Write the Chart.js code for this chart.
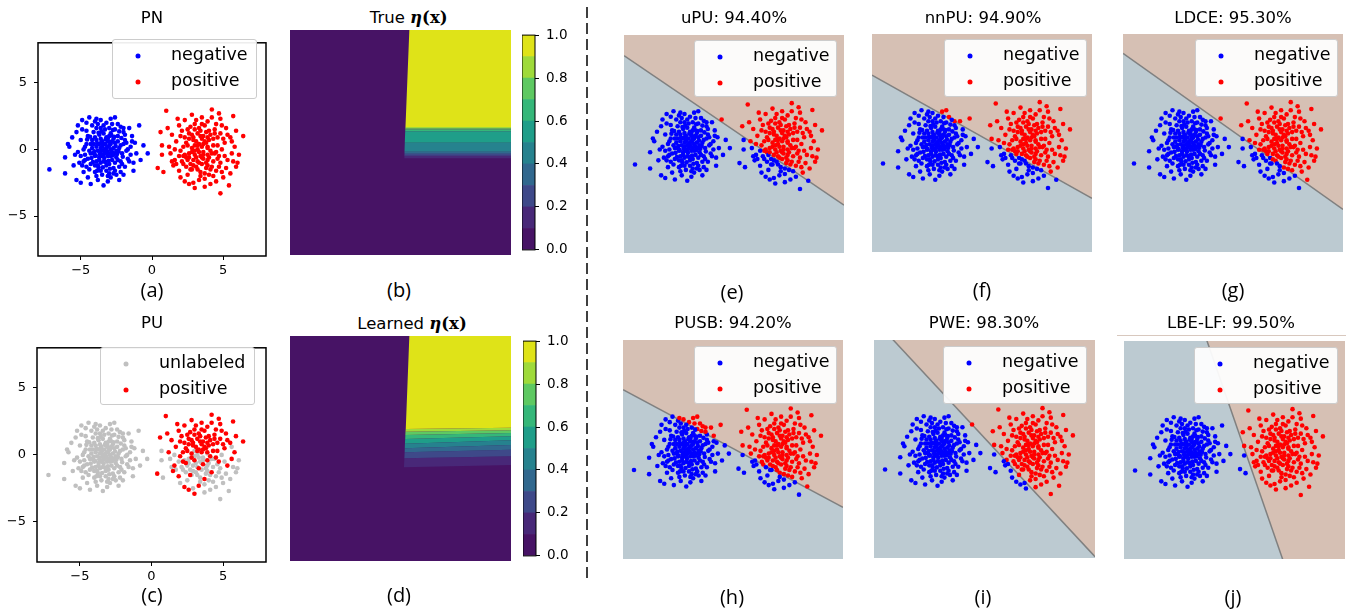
<!DOCTYPE html>
<html>
<head>
<meta charset="utf-8">
<title>PU learning decision boundaries</title>
<script src="https://cdn.jsdelivr.net/npm/chart.js@4.4.1/dist/chart.umd.min.js"></script>
<style>
  body { margin: 0; width: 1351px; height: 610px; position: relative; overflow: hidden; background: #fff; font-family: "DejaVu Sans", sans-serif; color: #000; }
  canvas { position: absolute; }
  .title { position: absolute; transform: translate(-50%, -50%); font-size: 16.5px; line-height: 1; white-space: nowrap; }
  .math { font-family: "DejaVu Serif", serif; font-weight: bold; }
  .tag { position: absolute; transform: translate(-50%, -50%); font-family: "Open Sans", sans-serif; font-size: 20px; line-height: 1; }
  .legend { position: absolute; box-sizing: border-box; background: rgba(255, 255, 255, 0.93); border: 1px solid #cccccc; border-radius: 3px; }
  .legend .dot { position: absolute; width: 5px; height: 5px; border-radius: 50%; transform: translate(-50%, -50%); }
  .legend .lbl { position: absolute; font-size: 17.5px; line-height: 1; white-space: nowrap; transform: translateY(-50%); }
</style>
</head>
<body>
<svg width="1351" height="610" style="position:absolute;left:0;top:0">
  <line x1="587" y1="7" x2="587" y2="582" stroke="#000" stroke-width="1.5" stroke-dasharray="11,5"/>
  <line x1="1117" y1="335.5" x2="1346" y2="335.5" stroke="#d8c8be" stroke-width="1"/>
</svg>
<script>
// ---------- data (axis units) ----------
const negativePts = [
  [-7.2,-1.5],[-6.1,-0.6],[-6.1,-1.8],[-5.9,0.4],[-5.8,0.2],[-5.3,-2.3],[-5.5,-1.2],[-5.2,1.8],[-4.9,2.2],[-4.4,2.4],
  [-5.0,-2.5],[-4.3,-2.6],[-3.4,-2.7],[-3.8,-2.3],[-2.7,-1.8],[-2.3,-2.3],[-2.6,2.4],[-2.9,2.3],[-1.6,1.6],[-0.9,1.8],
  [-0.3,-0.3],[-0.6,0.3],[-0.8,-0.8],[-1.3,-1.6],[-1.2,0.5],
  [-4.6,2.0],[-4.0,2.1],[-3.6,2.2],[-3.2,2.0],[-2.4,1.9],[-2.0,1.6],[-1.9,1.1],[-1.4,1.0],[-1.5,0.2],[-1.1,-0.3],
  [-1.7,-0.7],[-1.9,-1.3],[-2.2,-1.7],[-2.9,-2.1],[-3.1,-2.4],[-3.9,-2.0],[-4.5,-2.1],[-4.8,-1.7],[-5.1,-1.0],[-5.4,-0.4],
  [-5.6,0.9],[-5.3,1.3],[-4.9,1.5],[-4.7,-0.8],
  [-3.3,0.0],[-3.0,0.3],[-3.6,-0.2],[-3.1,-0.5],[-3.5,0.6],[-2.8,-0.2],[-3.9,0.2],[-3.2,0.9],[-2.6,0.5],[-4.0,-0.5],
  [-3.4,-0.9],[-2.5,-0.6],[-4.2,0.7],[-2.9,1.2],[-3.7,1.1],[-2.3,0.1],[-4.4,-0.1],[-3.0,-1.1],[-3.8,-1.2],[-2.2,-0.9],
  [-4.1,1.3],[-2.4,1.0],[-4.6,0.4],[-2.0,0.4],[-3.3,1.5],[-4.3,-1.1],[-2.7,-1.4],[-3.6,-1.6],[-2.1,-0.3],[-4.7,-0.4],
  [-3.9,1.6],[-2.6,1.5],[-3.1,0.6],[-3.5,0.2],[-2.9,0.0],[-3.7,-0.6],[-3.2,-0.2],[-2.7,0.8],[-4.0,0.9],[-3.4,-0.4],
  [-2.8,-0.8],[-3.9,-0.9],[-3.6,0.8],[-3.0,1.6],[-4.5,1.0],[-1.8,-0.1],[-1.9,0.7],[-2.3,-1.3],[-4.4,-1.5],[-3.2,-1.6],
  [-4.8,0.0],[-5.0,0.7],[-4.9,-1.2],[-2.0,1.3],[-3.8,1.9],[-2.8,1.9],[-3.4,1.2],[-2.5,-0.1],[-4.2,0.1],[-3.6,-1.0],
  [-2.4,0.6],[-4.1,-0.3],[-3.1,0.2],[-2.9,-0.5],[-3.3,0.4],[-3.7,0.4],[-2.6,-1.0],[-4.3,0.4],[-1.6,-0.9],[-1.4,0.6],
  [-2.2,1.7],[-4.2,1.8],[-5.2,-0.2],[-4.6,-1.3],[-3.5,-1.9],[-2.5,-1.9],[-1.7,0.0],
  [-3.15,-0.15],[-3.45,0.35],[-2.95,0.55],[-3.65,-0.35],[-3.25,0.75],[-2.75,-0.45],[-3.85,0.45],[-3.35,-0.65],[-2.55,0.25],[-4.05,-0.15],
  [-3.05,-0.85],[-3.55,1.35],[-2.45,-0.35],[-4.25,-0.65],[-2.85,1.05],[-3.75,-1.35],[-2.15,0.85],[-4.55,0.75],[-3.0,-1.8],[-4.0,-1.7],
  [-3.2,0.1],[-3.4,-0.1],[-3.0,-0.3],[-3.6,0.1],[-2.9,0.4],[-3.5,-0.5],[-3.1,0.8],[-3.8,-0.1],[-2.7,0.1],[-3.3,-0.3],
  [-3.9,0.7],[-2.6,-0.3],[-3.2,-1.2],[-4.1,0.4],[-2.8,0.6],[-3.7,-0.8],[-3.0,1.0],[-4.3,-0.3],[-2.4,-0.8],[-3.6,1.6],
  [-2.2,0.3],[-4.5,-0.7],[-3.4,1.8],[-2.6,-1.6],[-4.0,-1.2],[-2.1,-1.1],[-4.6,1.4],[-1.8,0.5],[-3.1,-2.0],[-4.7,0.2],
  [-3.55,0.55],[-2.65,0.95],[-3.95,-0.45],[-3.25,-0.95],[-2.35,-0.15],[-4.35,0.95],[-2.95,-1.45],[-3.75,1.25],[-2.05,-0.55],[-4.15,-0.95],
  [-3.45,-1.35],[-2.75,1.45],[-3.85,-1.6],[-2.3,1.35],[-5.0,-0.5],[-1.5,-0.4],[-3.9,2.3],[-2.0,-1.9],[-4.8,-0.9],[-1.3,-1.0]
];

// positives that carry a label in the PU panel (c)
const positiveLabeledPts = [
  [1.0,2.9],[4.2,3.0],[5.7,2.5],[4.8,2.3],[2.8,2.6],[6.4,1.0],[5.9,1.4],[0.6,1.3],[3.5,2.4],[2.3,2.2],
  [3.9,2.1],[4.5,1.9],[3.0,1.9],[1.9,1.8],[5.2,1.6],[1.4,1.1],[2.5,1.5],[3.3,1.6],[4.0,1.4],[4.8,1.2],
  [5.5,0.9],[2.0,1.0],[2.8,1.1],[3.6,1.0],[4.3,0.8],[1.7,0.6],[5.1,0.5],[2.4,0.5],[3.1,0.6],[3.8,0.5],
  [4.6,0.3],[5.8,0.2],[1.2,0.2],[2.0,-0.1],[2.8,0.1],[3.5,0.2],[4.1,-0.1],[3.0,-0.4],[4.7,-0.5],[2.4,-0.6],
  [3.6,-0.7],[5.3,-0.8],[1.6,-0.8],[0.4,-1.4],[1.5,-1.2],[2.3,-2.4],[3.0,-2.9],[3.3,-2.3],[2.7,-1.5],[4.2,-1.3],
  [3.2,1.2],[2.6,0.8],[4.4,1.5],[3.7,1.8],[1.1,1.6],[5.6,-0.3],[3.9,-0.4],[2.2,0.2],
  [3.3,0.4],[2.9,0.7],[3.7,0.6],[3.4,1.4],[2.6,1.2],[4.1,1.1],[3.0,1.5],[3.9,0.9],[2.3,0.9],[4.6,0.9],
  [3.5,0.8],[2.8,-0.2],[4.3,0.3],
  [3.2,0.3],[3.6,0.4],[2.9,0.9],[3.4,1.0],[4.0,0.7],[2.5,0.3],[3.8,1.3],[2.7,1.7],[4.4,1.2],[3.1,2.2],
  [4.9,1.8],[2.1,1.4],[5.3,1.1],[3.5,1.9],[4.2,2.4],[1.8,2.3],[5.0,0.8],[2.2,-0.5],[3.9,0.2],[4.5,-0.2],
  [3.3,-1.0],[1.9,-1.6],[2.6,-2.6],[3.7,-1.8],[4.7,2.7]
];

// positives left unlabeled in the PU panel (c)
const positiveUnlabeledPts = [
  [0.7,0.3],[0.7,-0.4],[0.8,-1.7],[2.0,-2.1],[4.8,-3.3],[5.4,-2.7],[4.1,-2.6],[5.9,-1.3],[6.1,-0.4],[3.3,-0.2],
  [2.9,-0.8],[3.8,-1.0],[4.5,-1.6],[2.2,-1.1],[3.4,-1.7],[2.6,-0.3],[4.0,-0.6],[3.1,-1.3],[4.8,-1.0],[1.9,-0.5],
  [3.6,-0.4],[2.5,-1.9],[3.7,-2.2],[5.0,-2.1],[4.4,-0.3],[5.5,-1.8],[1.3,-0.3],[2.9,-2.5],[4.3,-2.0],[3.9,0.1],
  [3.0,0.3],[2.3,-0.4],[3.5,-1.1],[4.9,0.0],[1.6,0.0],[5.6,0.6],[6.0,-1.0],[3.2,0.0],[2.7,-1.1],[4.1,-1.5],
  [3.6,-0.2],[3.1,-0.6],[3.9,-0.8],[2.5,-0.8],[4.2,-0.3],[3.4,-0.5],[2.9,-1.2],[4.6,-0.7],[3.2,-0.9],[3.8,-1.4],
  [3.5,-0.6],[3.0,-0.1],[4.3,-0.9],[2.8,-1.5],[3.9,-1.2],[2.4,-1.3],[4.7,-1.3],[3.4,-2.0],[5.1,-0.5],[2.1,-0.9],
  [3.7,-2.8],[4.5,-2.4],[5.2,-1.4],[1.7,-1.1],[4.0,-1.9],[3.2,-1.5],[2.6,-0.6],[4.9,-1.7],[1.4,-0.9],[5.7,-0.9]
];

const axisMin = -8, axisMax = 8;
const axisTicks = [-5, 0, 5];

// eta(x) contour levels and the viridis colour of each band
const etaLevels = [0, 0.1, 0.2, 0.3, 0.4, 0.5, 0.6, 0.7, 0.8, 0.9, 1.0];
const viridisMid = ['#471365', '#482878', '#3e4989', '#31688e', '#26828e', '#1f9e89', '#35b779', '#5ec962', '#9fda3a', '#dfe318'];
const cbarTicks = [0, 0.2, 0.4, 0.6, 0.8, 1.0];

// contour edges from the 0.9 level downwards: y at the left end, y at the right end, x of the left end
const trueEdgeYLeft  = [1.11, 1.01, 0.92, 0.80, -0.02, -0.66, -0.80, -0.94, -1.12];
const trueEdgeYRight = [1.11, 1.01, 0.92, 0.80, -0.02, -0.66, -0.80, -0.94, -1.12];
const trueEdgeX      = [0.36, 0.35, 0.35, 0.34, 0.31, 0.29, 0.29, 0.28, 0.28];
const trueTopX = 0.64;
const learnedEdgeYLeft  = [1.39, 1.20, 0.96, 0.68, 0.34, 0.02, -0.27, -0.70, -1.34];
const learnedEdgeYRight = [1.48, 1.30, 1.10, 0.87, 0.58, 0.25, -0.08, -0.55, -1.17];
const learnedEdgeX      = [0.38, 0.36, 0.35, 0.34, 0.32, 0.31, 0.30, 0.28, 0.25];
const learnedTopX = 0.64;

// learned decision boundaries, as the line through two points
const methodNames = ['uPU', 'nnPU', 'LDCE', 'PUSB', 'PWE', 'LBE-LF'];
const methodAcc = ['94.40', '94.90', '95.30', '94.20', '98.30', '99.50'];
const methodBoundaries = [
  [[-8, 6.49], [8, -4.48]],
  [[-8, 4.98], [8, -4.06]],
  [[-8, 6.58], [8, -4.88]],
  [[-8, 4.38], [8, -4.22]],
  [[-8, 9.52], [8, -7.90]],
  [[-8, 25.58], [8, -21.22]]
];

// ---------- styles ----------
const BLUE = '#0000ff', RED = '#ff0000', GREY = '#c0c0c0';
const POS_REGION = '#d6c0b4', NEG_REGION = '#bccad1';
const FONT = 'DejaVu Sans';
const DOT = 2.3;

const pt = ([x, y]) => ({ x, y });

// black box round the plotting area
Chart.register({
  id: 'frame',
  afterDraw(chart, args, opts) {
    if (!opts.width) return;
    const { ctx, chartArea: a } = chart;
    ctx.save();
    ctx.strokeStyle = '#000';
    ctx.lineWidth = opts.width;
    ctx.strokeRect(a.left, a.top, a.right - a.left, a.bottom - a.top);
    ctx.restore();
  }
});

function makeCanvas(left, top, w, h) {
  const c = document.createElement('canvas');
  c.width = w; c.height = h;
  c.style.cssText = `left:${left}px;top:${top}px;width:${w}px;height:${h}px`;
  document.body.appendChild(c);
  return c;
}

function addText(cls, html, x, y) {
  const d = document.createElement('div');
  d.className = cls;
  d.innerHTML = html;
  d.style.left = x + 'px';
  d.style.top = y + 'px';
  document.body.appendChild(d);
}

function addLegend(left, top, w, h, items) {
  const box = document.createElement('div');
  box.className = 'legend';
  box.style.cssText = `left:${left}px;top:${top}px;width:${w}px;height:${h}px`;
  items.forEach(([label, color], i) => {
    const cy = 16 + i * 26;
    const dot = document.createElement('div');
    dot.className = 'dot';
    dot.style.cssText = `left:25px;top:${cy}px;background:${color}`;
    const lbl = document.createElement('div');
    lbl.className = 'lbl';
    lbl.style.cssText = `left:58px;top:${cy - 1.5}px`;
    lbl.textContent = label;
    box.appendChild(dot);
    box.appendChild(lbl);
  });
  document.body.appendChild(box);
}

function baseOptions(scales, padding, frameWidth) {
  return {
    animation: false,
    responsive: false,
    events: [],
    layout: { padding },
    plugins: { legend: { display: false }, tooltip: { enabled: false }, frame: { width: frameWidth } },
    scales
  };
}

function tickAxis(pos, size) {
  return {
    type: 'linear', position: pos, min: axisMin, max: axisMax,
    afterBuildTicks: s => { s.ticks = axisTicks.map(v => ({ value: v })); },
    afterFit: s => { if (pos === 'left') s.width = size; else s.height = size; },
    grid: { drawOnChartArea: false, tickLength: 4, color: '#000', lineWidth: 1 },
    border: { display: false },
    ticks: {
      color: '#000', padding: pos === 'left' ? 7 : 3, maxRotation: 0,
      font: { family: FONT, size: 13 },
      callback: v => v < 0 ? '\u2212' + Math.abs(v) : String(v)
    }
  };
}

const hiddenAxis = () => ({ type: 'linear', display: false, min: axisMin, max: axisMax });

// ----------- PN / PU scatter panels -----------
function dataPanel(left, top, w, h, yAxisWidth, datasets) {
  const c = makeCanvas(left, top, w, h);
  new Chart(c, {
    type: 'scatter',
    data: { datasets },
    options: baseOptions({ x: tickAxis('bottom', 28), y: tickAxis('left', yAxisWidth) },
      { top: 4, right: 4, left: 0, bottom: 0 }, 1.5)
  });
}

function dots(points, color, order) {
  return { data: points.map(pt), pointRadius: DOT, pointBorderWidth: 0, pointBackgroundColor: color, pointBorderColor: color, order };
}

dataPanel(0, 28, 270, 256, 38, [
  dots(positiveLabeledPts.concat(positiveUnlabeledPts), RED, 0),
  dots(negativePts, BLUE, 1)
]);
dataPanel(0, 333, 270, 257, 37, [
  dots(positiveLabeledPts, RED, 0),
  dots(negativePts.concat(positiveUnlabeledPts), GREY, 1)
]);

// ----------- eta(x) contour panels -----------
function heatPanel(left, top, w, h, edgeYL, edgeYR, edgeX, topX) {
  const c = makeCanvas(left, top, w, h);
  const poly = (pts, color, order) => ({
    type: 'line', data: pts.map(pt), backgroundColor: color, borderWidth: 0,
    pointRadius: 0, fill: 'shape', tension: 0, order
  });
  const sets = [poly([[axisMin, axisMin], [axisMax, axisMin], [axisMax, axisMax], [axisMin, axisMax]], viridisMid[0], 3)];
  sets.push(poly([[topX, axisMax], [axisMax, axisMax], [axisMax, edgeYR[0]], [edgeX[0], edgeYL[0]]], viridisMid[9], 1));
  for (let i = 0; i < edgeYL.length - 1; i++) {
    sets.push(poly([[edgeX[i], edgeYL[i]], [axisMax, edgeYR[i]], [axisMax, edgeYR[i + 1]], [edgeX[i + 1], edgeYL[i + 1]]],
      viridisMid[8 - i], 1));
  }
  new Chart(c, {
    type: 'scatter',
    data: { datasets: sets },
    options: baseOptions({ x: hiddenAxis(), y: hiddenAxis() }, 0, 0)
  });
}

function colorbar(left, top, w, h, padTop, padBottom) {
  const c = makeCanvas(left, top, w, h);
  const sets = viridisMid.map((col, i) => ({
    data: [[etaLevels[i], etaLevels[i + 1]]], backgroundColor: col, borderWidth: 0,
    grouped: false, barPercentage: 1, categoryPercentage: 1
  }));
  new Chart(c, {
    type: 'bar',
    data: { labels: [''], datasets: sets },
    options: baseOptions({
      x: { display: false },
      y: {
        position: 'right', min: 0, max: 1,
        afterBuildTicks: s => { s.ticks = cbarTicks.map(v => ({ value: v })); },
        afterFit: s => { s.width = w - 13; },
        grid: { drawOnChartArea: false, tickLength: 4, color: '#000' },
        border: { display: false },
        ticks: { color: '#000', padding: 7, font: { family: FONT, size: 13.5 }, callback: v => v.toFixed(1) }
      }
    }, { top: padTop, bottom: padBottom, left: 0, right: 0 }, 1)
  });
}

heatPanel(290, 30, 221, 225, trueEdgeYLeft, trueEdgeYRight, trueEdgeX, trueTopX);
heatPanel(290, 336, 221, 225, learnedEdgeYLeft, learnedEdgeYRight, learnedEdgeX, learnedTopX);
colorbar(522, 20, 52, 245, 10.7, 10.7);
colorbar(523, 326, 52, 245, 11, 10.3);

// ----------- decision boundary panels -----------
function boundaryPanel(left, top, w, h, boundary) {
  const c = makeCanvas(left, top, w, h);
  const [[x1, y1], [x2, y2]] = boundary;
  const above = ([x, y]) => (x2 - x1) * (y - y1) - (y2 - y1) * (x - x1) > 0;
  const pts = negativePts.concat(positiveLabeledPts, positiveUnlabeledPts);
  const colors = pts.map(p => above(p) ? RED : BLUE);
  const line = boundary.map(pt);
  new Chart(c, {
    type: 'scatter',
    data: {
      datasets: [
        { data: pts.map(pt), pointRadius: DOT, pointBorderWidth: 0, pointBackgroundColor: colors, pointBorderColor: colors, order: 0 },
        { type: 'line', data: line, borderColor: '#808080', borderWidth: 1.5, pointRadius: 0, fill: 'end', backgroundColor: POS_REGION, order: 1 },
        { type: 'line', data: line, borderWidth: 0, pointRadius: 0, fill: 'start', backgroundColor: NEG_REGION, order: 2 }
      ]
    },
    options: baseOptions({ x: hiddenAxis(), y: hiddenAxis() }, 0, 0)
  });
}

const boundaryBoxes = [
  [620, 31, 228, 226], [868, 30, 228, 226], [1119, 30, 228, 226],
  [619, 336, 228, 227], [870, 336, 229, 226], [1120, 337, 229, 226]
];
const legendBoxes = [
  [694, 40, 143, 57], [944, 39, 143, 58], [1195, 39, 143, 58],
  [694, 346, 143, 58], [943, 346, 144, 58], [1194, 347, 144, 57]
];
const titleSpots = [[734, 18], [983, 18], [1233, 18], [733, 323], [984, 322.5], [1231, 322.5]];

methodBoundaries.forEach((b, i) => {
  const [l, t, w, h] = boundaryBoxes[i];
  boundaryPanel(l, t, w, h, b);
  addLegend(...legendBoxes[i], [['negative', BLUE], ['positive', RED]]);
  addText('title', `${methodNames[i]}: ${methodAcc[i]}%`, ...titleSpots[i]);
});

// ----------- titles, legends and panel tags -----------
addLegend(112, 39, 145, 60, [['negative', BLUE], ['positive', RED]]);
addLegend(100, 347, 155, 58, [['unlabeled', GREY], ['positive', RED]]);

addText('title', 'PN', 152, 18.3);
addText('title', 'PU', 152, 323.3);
addText('title', 'True <span class="math"><i>\u03b7</i>(x)</span>', 408.7, 17.5);
addText('title', 'Learned <span class="math"><i>\u03b7</i>(x)</span>', 412, 323.5);

const tagSpots = [
  ['(a)', 152, 290], ['(b)', 399, 290], ['(e)', 732, 292], ['(f)', 982, 290], ['(g)', 1233, 290],
  ['(c)', 152, 595], ['(d)', 399, 595], ['(h)', 732, 596.5], ['(i)', 983, 596.5], ['(j)', 1233, 596.5]
];
tagSpots.forEach(([t, x, y]) => addText('tag', t, x, y));
</script>
</body>
</html>
